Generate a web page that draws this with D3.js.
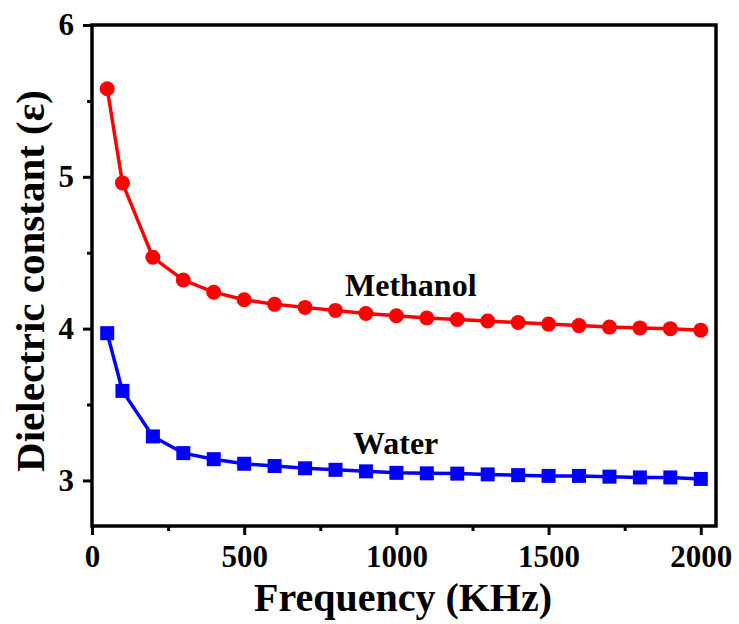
<!DOCTYPE html>
<meta charset="utf-8">
<style>
body { margin: 0; background: #fff; }
.axis path { display: none; }
.axis line { stroke: #000; stroke-width: 3; }
</style>
<body>
<script src="https://cdn.jsdelivr.net/npm/d3@7"></script>
<script>

// frequency in KHz
var freq = [50, 100, 200, 300, 400, 500, 600, 700, 800, 900, 1000,
            1100, 1200, 1300, 1400, 1500, 1600, 1700, 1800, 1900, 2000];

var methanol = [5.58, 4.96, 4.47, 4.32, 4.24, 4.19, 4.16, 4.14, 4.12, 4.10, 4.085,
                4.07, 4.06, 4.05, 4.04, 4.03, 4.02, 4.01, 4.005, 4.0, 3.99];

var water = [3.97, 3.59, 3.29, 3.18, 3.14, 3.11, 3.095, 3.08, 3.07, 3.06, 3.05,
             3.047, 3.045, 3.04, 3.035, 3.03, 3.03, 3.025, 3.02, 3.02, 3.01];

var xTicks = [0, 500, 1000, 1500, 2000],
    xMinor = [250, 750, 1250, 1750],
    yTicks = [3, 4, 5, 6],
    yMinor = [3.5, 4.5, 5.5];

var serif = "'Liberation Serif', 'Times New Roman', Times, serif";

var width = 739, height = 624;

var x = d3.scaleLinear().domain([0, 2050]).range([92, 716]);
var y = d3.scaleLinear().domain([2.7, 6]).range([526, 25]);

var svg = d3.select("body").append("svg")
    .attr("width", width)
    .attr("height", height);

// minor ticks
svg.append("g")
    .attr("class", "axis")
    .attr("transform", "translate(0," + y(2.7) + ")")
    .call(d3.axisBottom(x).tickValues(xMinor).tickSize(5).tickFormat(""));

svg.append("g")
    .attr("class", "axis")
    .attr("transform", "translate(" + x(0) + ",0)")
    .call(d3.axisLeft(y).tickValues(yMinor).tickSize(5).tickFormat(""));

// major ticks
var xAxis = svg.append("g")
    .attr("class", "axis")
    .attr("transform", "translate(0," + y(2.7) + ")")
    .call(d3.axisBottom(x).tickValues(xTicks).tickSize(9).tickPadding(10).tickFormat(d3.format("d")));

var yAxis = svg.append("g")
    .attr("class", "axis")
    .attr("transform", "translate(" + x(0) + ",0)")
    .call(d3.axisLeft(y).tickValues(yTicks).tickSize(9).tickPadding(9).tickFormat(d3.format("d")));

[xAxis, yAxis].forEach(function(g) {
  g.attr("font-family", serif).attr("font-size", 31).attr("font-weight", "bold");
  g.selectAll("text").attr("fill", "#000");
});

// frame
svg.append("rect")
    .attr("x", x(0))
    .attr("y", y(6))
    .attr("width", x(2050) - x(0))
    .attr("height", y(2.7) - y(6))
    .attr("fill", "none")
    .attr("stroke", "#000")
    .attr("stroke-width", 3.5);

var line = d3.line()
    .x(function(d) { return x(d[0]); })
    .y(function(d) { return y(d[1]); });

var mData = freq.map(function(f, i) { return [f, methanol[i]]; });
var wData = freq.map(function(f, i) { return [f, water[i]]; });

svg.append("path")
    .datum(mData)
    .attr("d", line)
    .attr("fill", "none")
    .attr("stroke", "#ff0000")
    .attr("stroke-width", 3.5);

svg.selectAll("circle.m")
    .data(mData)
    .enter().append("circle")
    .attr("class", "m")
    .attr("cx", function(d) { return x(d[0]); })
    .attr("cy", function(d) { return y(d[1]); })
    .attr("r", 7.5)
    .attr("fill", "#ff0000");

svg.append("path")
    .datum(wData)
    .attr("d", line)
    .attr("fill", "none")
    .attr("stroke", "#0000ff")
    .attr("stroke-width", 3.5);

var sq = 14;
svg.selectAll("rect.w")
    .data(wData)
    .enter().append("rect")
    .attr("class", "w")
    .attr("x", function(d) { return x(d[0]) - sq / 2; })
    .attr("y", function(d) { return y(d[1]) - sq / 2; })
    .attr("width", sq)
    .attr("height", sq)
    .attr("fill", "#0000ff");

function label(txt, px, py, size, anchor) {
  return svg.append("text")
      .attr("x", px)
      .attr("y", py)
      .attr("text-anchor", anchor || "start")
      .attr("font-family", serif)
      .attr("font-weight", "bold")
      .attr("font-size", size)
      .attr("fill", "#000")
      .text(txt);
}

// series labels
label("Methanol", 345, 296, 32);
label("Water", 353, 454, 32);

// axis titles
label("Frequency (KHz)", 403, 611, 40, "middle");
label("Dielectric constant (ε)", 0, 0, 41, "middle")
    .attr("x", null).attr("y", null)
    .attr("transform", "translate(44,281) rotate(-90)");

</script>
